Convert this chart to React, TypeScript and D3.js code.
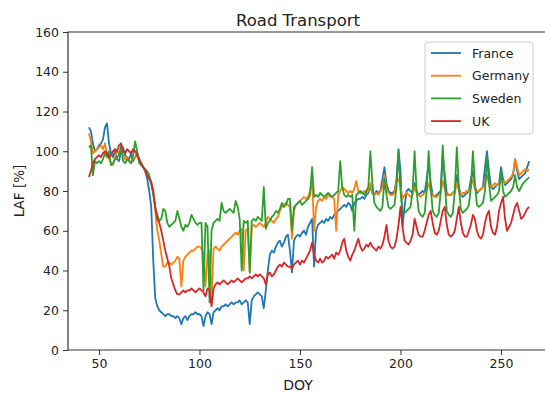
import { useEffect, useRef } from "react";
import * as d3 from "d3";

// daily values, DOY 45 .. 264
const firstDoy = 45;

const france = [
  112, 110, 104, 100, 101, 103, 104, 106, 112, 114,
  104, 99, 97, 100, 96, 95, 100, 102, 98, 97,
  96, 99, 95, 97, 99, 96, 94, 92, 90, 86,
  80, 72, 45, 26, 22, 20, 19, 18, 17, 18,
  18, 17, 17, 16, 17, 16, 13, 16, 17, 15,
  17, 18, 18, 19, 18, 18, 17, 12, 17, 19,
  18, 13, 19, 20, 21, 20, 22, 22, 23, 22,
  23, 24, 23, 24, 24, 25, 23, 24, 25, 24,
  13, 25, 27, 28, 29, 28, 27, 21, 30, 40,
  48, 50, 49, 52, 54, 55, 52, 54, 57, 58,
  50, 39, 55, 57, 58, 57, 59, 60, 58, 62,
  64, 66, 42, 60, 63, 64, 65, 64, 66, 65,
  67, 66, 68, 69, 70, 71, 72, 73, 72, 74,
  73, 70, 74, 75, 76, 76, 77, 76, 78, 79,
  82, 79, 78, 80, 79, 80, 86, 92, 84, 80,
  79, 79, 80, 86, 101, 90, 62, 72, 80, 81,
  80, 79, 84, 80, 78, 79, 80, 79, 86, 94,
  84, 78, 77, 78, 79, 80, 98, 88, 79, 78,
  78, 79, 80, 88, 82, 78, 77, 78, 79, 80,
  86, 90, 82, 79, 80, 81, 82, 92, 100, 90,
  82, 81, 82, 83, 84, 92, 86, 83, 84, 85,
  86, 88, 96, 90, 86, 87, 88, 89, 92, 95,
];

const germany = [
  109, 105, 99, 100, 101, 102, 103, 101, 104, 98,
  96, 94, 93, 97, 100, 99, 101, 98, 96, 97,
  95, 94, 96, 97, 98, 95, 93, 92, 91, 89,
  87, 85, 80, 70, 60, 55, 48, 42, 42, 44,
  44, 43, 44, 45, 47, 46, 32, 45, 47, 48,
  49, 50, 50, 51, 52, 52, 51, 48, 32, 48,
  50, 24, 51, 52, 51, 50, 52, 53, 54, 55,
  56, 57, 58, 59, 58, 60, 61, 40, 60, 61,
  39, 62, 63, 62, 63, 64, 63, 62, 64, 67,
  66, 65, 64, 66, 67, 70, 72, 73, 74, 73,
  72, 56, 70, 73, 74, 75, 76, 77, 76, 77,
  80, 86, 60, 72, 75, 76, 75, 77, 76, 78,
  77, 77, 76, 60, 78, 80, 82, 81, 80, 79,
  80, 79, 81, 85, 80, 79, 79, 80, 79, 80,
  84, 79, 78, 79, 78, 80, 82, 88, 81, 79,
  78, 78, 79, 85, 86, 82, 76, 78, 79, 78,
  77, 78, 82, 79, 78, 77, 78, 79, 80, 84,
  80, 78, 77, 77, 78, 79, 85, 81, 78, 78,
  78, 79, 79, 84, 80, 78, 79, 79, 80, 80,
  82, 86, 81, 80, 80, 81, 82, 83, 88, 84,
  82, 83, 84, 83, 84, 86, 85, 84, 85, 86,
  87, 89, 96, 92, 88, 89, 90, 91, 90, 91,
];

const sweden = [
  102, 103, 88, 95, 94, 95, 94, 96, 99, 97,
  100, 93, 94, 96, 97, 98, 103, 95, 94, 96,
  95, 94, 98, 105, 100, 94, 93, 92, 91, 90,
  88, 84, 78, 72, 68, 65, 66, 71, 70, 64,
  62, 63, 64, 65, 70, 66, 62, 60, 63, 62,
  64, 68, 66, 64, 63, 64, 64, 30, 64, 62,
  24, 60, 64, 65, 66, 65, 74, 70, 69, 70,
  71, 70, 69, 75, 72, 66, 40, 65, 64, 65,
  39, 65, 66, 65, 67, 66, 65, 82, 61, 64,
  65, 67, 68, 70, 69, 71, 74, 72, 73, 76,
  76, 60, 72, 73, 74, 75, 73, 74, 75, 76,
  78, 92, 77, 78, 77, 79, 78, 77, 78, 79,
  78, 77, 78, 79, 80, 95, 82, 78, 77, 78,
  77, 78, 60, 78, 79, 80, 79, 78, 80, 82,
  100, 84, 74, 72, 71, 70, 72, 86, 78, 72,
  71, 72, 73, 82, 100, 80, 70, 69, 70, 71,
  72, 80, 100, 80, 70, 68, 67, 69, 80, 100,
  82, 70, 68, 67, 69, 80, 103, 84, 70, 68,
  67, 69, 80, 102, 82, 71, 69, 70, 71, 73,
  82, 100, 84, 73, 72, 73, 74, 80, 97, 84,
  75, 76, 77, 78, 80, 90, 80, 77, 78, 79,
  80, 82, 88, 82, 80, 82, 84, 85, 86, 87,
];

const uk = [
  87, 90, 94, 96, 97, 98, 97, 99, 100, 99,
  97, 98, 100, 101, 100, 103, 104, 100, 99, 101,
  100, 99, 101, 100, 98, 96, 94, 92, 90, 88,
  86, 84, 80, 72, 66, 64, 60, 55, 50, 46,
  42, 36, 33, 30, 28, 28, 29, 30, 29, 30,
  30, 31, 30, 29, 30, 31, 30, 29, 27, 31,
  30, 22, 31, 33, 34, 33, 34, 35, 34, 33,
  34, 35, 34, 35, 36, 35, 34, 35, 36, 36,
  37, 36, 37, 38, 37, 38, 37, 36, 33, 38,
  39, 37, 38, 40, 42, 43, 42, 44, 43, 42,
  42, 41, 43, 44, 45, 43, 45, 44, 46, 48,
  50, 54, 48, 45, 44, 46, 44, 45, 47, 46,
  47, 48, 46, 49, 48, 50, 54, 56, 50, 47,
  45, 48, 50, 53, 56, 52, 50, 51, 53, 52,
  54, 52, 51, 50, 52, 51, 53, 57, 63, 55,
  52, 51, 52, 56, 63, 72, 62, 55, 54, 53,
  55, 58, 66, 62, 58, 57, 57, 60, 64, 68,
  70, 64, 59, 58, 60, 65, 70, 72, 63, 58,
  57, 58, 60, 66, 72, 64, 59, 57, 57, 60,
  63, 68, 66, 60, 57, 56, 58, 64, 68, 70,
  62, 59, 58, 62, 70, 74, 77, 66, 60, 62,
  64, 68, 72, 74, 70, 66, 67, 69, 71, 72,
];

const countries = ["France", "Germany", "Sweden", "UK"];
const colors = ["#1f77b4", "#ff7f0e", "#2ca02c", "#d62728"];
const xTicks = [50, 100, 150, 200, 250];
const yTicks = [0, 20, 40, 60, 80, 100, 120, 140, 160];

const font = "'DejaVu Sans', sans-serif";

const drawChart = (ref: SVGSVGElement) => {
  const svg = d3.select(ref);
  svg.selectAll("*").remove();

  const x = d3.scaleLinear().domain([34.6, 274.6]).range([68, 550.5]);
  const y = d3.scaleLinear().domain([0, 160]).range([350, 32]);

  const series = [france, germany, sweden, uk];

  const line = d3
    .line<number>()
    .x((d, i) => x(firstDoy + i))
    .y((d) => y(d));

  svg
    .append("g")
    .selectAll("path")
    .data(series)
    .join("path")
    .attr("d", (d) => line(d))
    .attr("fill", "none")
    .attr("stroke", (d, i) => colors[i])
    .attr("stroke-width", 1.8)
    .attr("stroke-linejoin", "round");

  // axes
  const xAxis = svg
    .append("g")
    .attr("transform", `translate(0,${y(0)})`)
    .call(d3.axisBottom(x).tickValues(xTicks).tickSize(5).tickPadding(4));
  const yAxis = svg
    .append("g")
    .attr("transform", `translate(${x(34.6)},0)`)
    .call(d3.axisLeft(y).tickValues(yTicks).tickSize(5).tickPadding(4));

  [xAxis, yAxis].forEach((a) => {
    a.select(".domain").remove();
    a.selectAll("line").attr("stroke", "#333").attr("stroke-width", 1);
    a.selectAll("text")
      .attr("fill", "#222")
      .style("font-family", font)
      .style("font-size", "12.5px");
  });

  // spines (right one falls outside the picture)
  svg
    .append("path")
    .attr("d", `M${x(274.6)},${y(160)}H${x(34.6)}V${y(0)}H${x(274.6)}`)
    .attr("fill", "none")
    .attr("stroke", "#333")
    .attr("stroke-width", 1.2);

  svg
    .append("text")
    .attr("x", 298)
    .attr("y", 26)
    .attr("text-anchor", "middle")
    .style("font-family", font)
    .style("font-size", "16.5px")
    .attr("fill", "#222")
    .text("Road Transport");

  svg
    .append("text")
    .attr("x", 298)
    .attr("y", 390)
    .attr("text-anchor", "middle")
    .style("font-family", font)
    .style("font-size", "14px")
    .attr("fill", "#222")
    .text("DOY");

  svg
    .append("text")
    .attr("transform", "translate(24,191) rotate(-90)")
    .attr("text-anchor", "middle")
    .style("font-family", font)
    .style("font-size", "13.5px")
    .attr("fill", "#222")
    .text("LAF [%]");

  // legend
  const lg = svg.append("g").attr("transform", "translate(425,42)");
  lg.append("rect")
    .attr("width", 108)
    .attr("height", 92)
    .attr("rx", 3)
    .attr("fill", "white")
    .attr("fill-opacity", 0.85)
    .attr("stroke", "#cccccc");
  const item = lg
    .selectAll("g.item")
    .data(countries)
    .join("g")
    .attr("class", "item")
    .attr("transform", (d, i) => `translate(0,${11 + i * 22.7})`);
  item
    .append("line")
    .attr("x1", 6)
    .attr("x2", 36)
    .attr("stroke", (d, i) => colors[i])
    .attr("stroke-width", 1.8);
  item
    .append("text")
    .attr("x", 47)
    .attr("y", 4.5)
    .style("font-family", font)
    .style("font-size", "12.5px")
    .attr("fill", "#222")
    .text((d) => d);
};

export default function App() {
  const ref = useRef<SVGSVGElement>(null);

  useEffect(() => {
    if (ref.current) drawChart(ref.current);
  }, []);

  return (
    <svg
      ref={ref}
      width={545}
      height={393}
      style={{ position: "absolute", left: 0, top: 0, background: "white" }}
    />
  );
}
